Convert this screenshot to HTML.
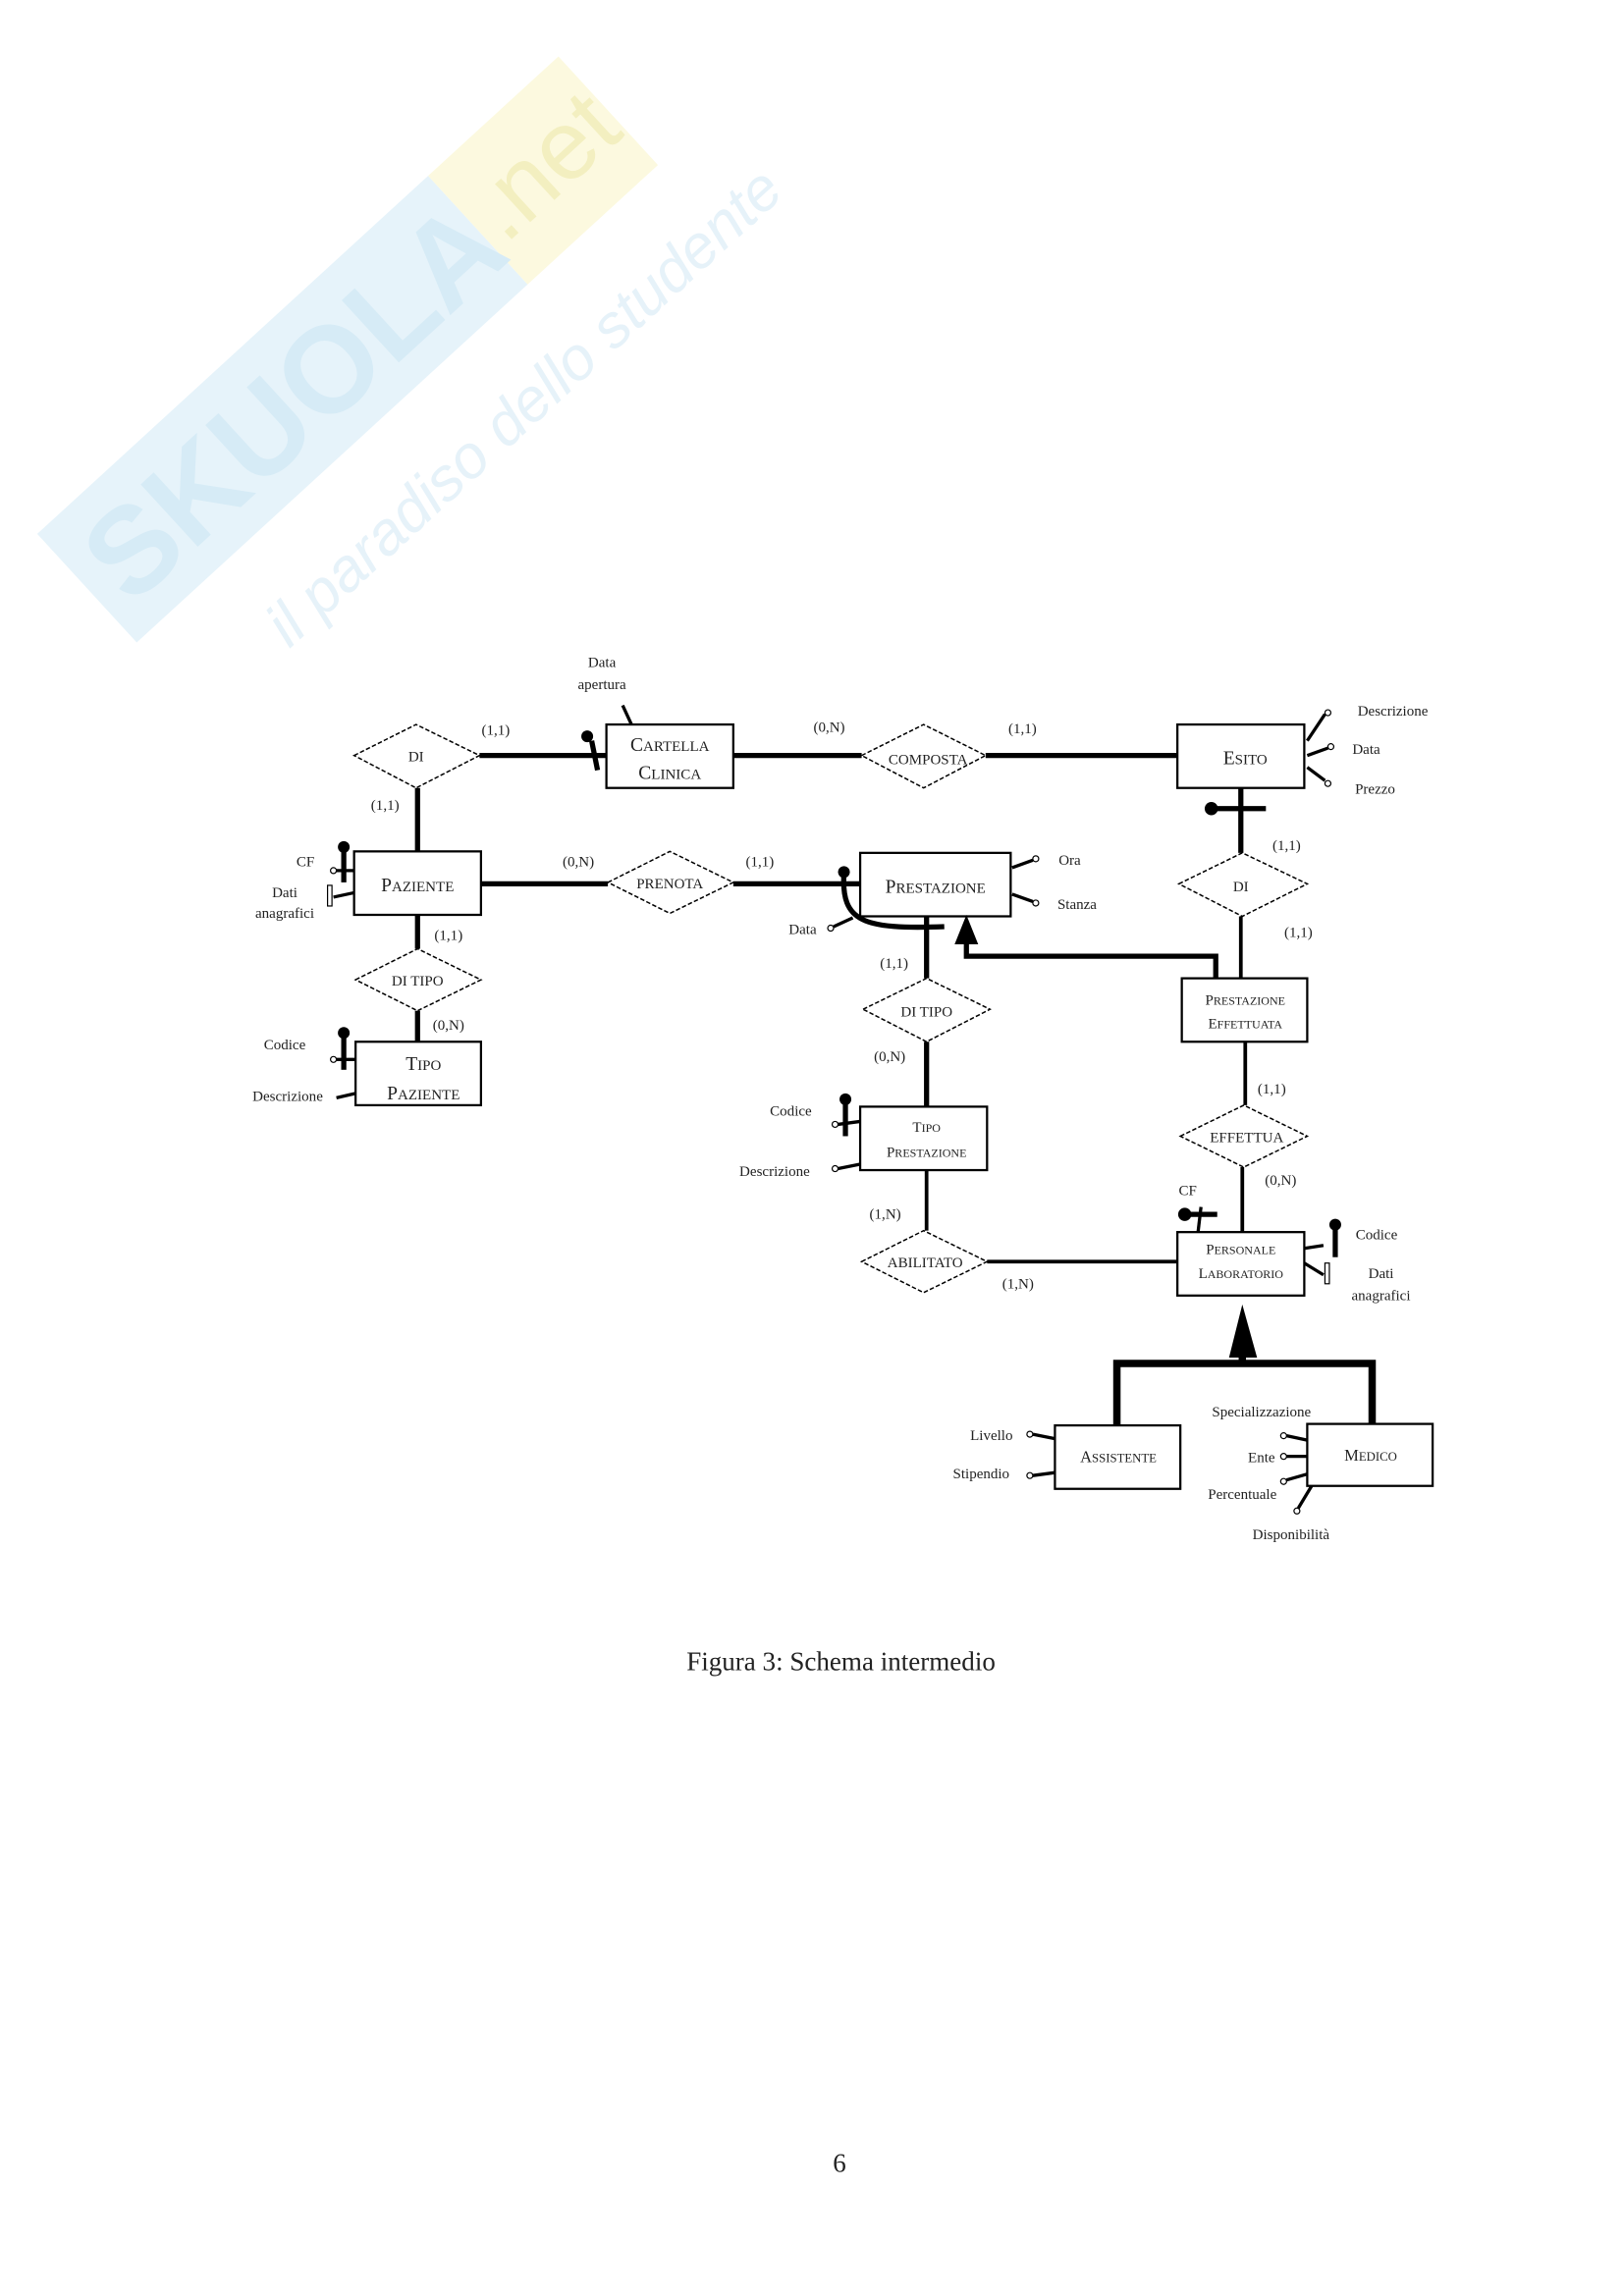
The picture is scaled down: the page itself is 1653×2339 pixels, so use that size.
<!DOCTYPE html>
<html><head><meta charset="utf-8"><style>
html,body{margin:0;padding:0;background:#fff}
svg{display:block}
text{font-family:"Liberation Serif",serif;fill:#222}
</style></head><body>
<svg width="1653" height="2339" viewBox="0 0 1653 2339" xmlns="http://www.w3.org/2000/svg">
<!-- watermark -->
<g transform="translate(354,356) rotate(-42.5)">
<rect x="-360" y="-75" width="540" height="150" fill="#e6f3fa"/>
<rect x="180" y="-75" width="180" height="150" fill="#fcf9df"/>
<text x="-340" y="45" font-size="125" font-weight="bold" style="font-family:'Liberation Sans',sans-serif;fill:#d6ebf6">SKUOLA</text>
<text x="190" y="30" font-size="100" style="font-family:'Liberation Sans',sans-serif;fill:#f3efc0">.net</text>
<text x="-250" y="185" font-size="62" font-style="italic" style="font-family:'Liberation Sans',sans-serif;fill:#e6f2f9">il paradiso dello studente</text>
</g>
<g transform="scale(1.5027,1.5032)">
<g fill="none" stroke="#000">
<g stroke-width="3.5">
<line x1="325" y1="512" x2="411" y2="512"/>
<line x1="497" y1="512" x2="584" y2="512"/>
<line x1="668" y1="512" x2="798" y2="512"/>
<line x1="326" y1="599" x2="412" y2="599"/>
<line x1="497" y1="599" x2="583" y2="599"/>
<line x1="283" y1="534" x2="283" y2="577"/>
<line x1="283" y1="620" x2="283" y2="643"/>
<line x1="283" y1="685" x2="283" y2="706"/>
<line x1="628" y1="621" x2="628" y2="663"/>
<line x1="628" y1="706" x2="628" y2="750"/>
<line x1="841" y1="534" x2="841" y2="578"/>
<polyline points="824,663 824,648 655,648 655,638"/>
<path d="M572,592 C570,625 585,630 640,628"/>
</g>
<g stroke-width="2.5">
<line x1="628" y1="793" x2="628" y2="834"/>
<line x1="669" y1="855" x2="798" y2="855"/>
<line x1="841" y1="621" x2="841" y2="663"/>
<line x1="844" y1="706" x2="844" y2="749"/>
<line x1="842" y1="791" x2="842" y2="835"/>
</g>
<g stroke-width="5">
<polyline points="757,966 757,924 930,924 930,965"/>
<line x1="842" y1="924" x2="842" y2="905"/>
</g>
<polygon points="655,620 647,640 663,640" fill="#000" stroke="none"/>
<polygon points="842,884 833,920 852,920" fill="#000" stroke="none"/>
<g stroke-width="1.5">
<rect x="411" y="491" width="86" height="43"/>
<rect x="798" y="491" width="86" height="43"/>
<rect x="240" y="577" width="86" height="43"/>
<rect x="583" y="578" width="102" height="43"/>
<rect x="241" y="706" width="85" height="43"/>
<rect x="583" y="750" width="86" height="43"/>
<rect x="801" y="663" width="85" height="43"/>
<rect x="798" y="835" width="86" height="43"/>
<rect x="715" y="966" width="85" height="43"/>
<rect x="886" y="965" width="85" height="42"/>
</g>
<g stroke-width="1" stroke-dasharray="3,1.5">
<polygon points="240,512 282,491 325,512 282,534"/>
<polygon points="412,598 454,577 497,598 454,619"/>
<polygon points="584,512 626,491 668,512 626,534"/>
<polygon points="799,599 842,578 886,599 842,621"/>
<polygon points="241,664 283,643 326,664 283,685"/>
<polygon points="585,684 628,663 671,684 628,706"/>
<polygon points="584,855 626,834 669,855 626,876"/>
<polygon points="800,770 843,749 886,770 843,791"/>
</g>
<g stroke-width="2.2">
<line x1="422" y1="478" x2="428" y2="491"/>
<line x1="886" y1="502" x2="898" y2="484"/>
<line x1="886" y1="512" x2="900" y2="507"/>
<line x1="886" y1="520" x2="898" y2="529"/>
<line x1="686" y1="588" x2="700" y2="583"/>
<line x1="686" y1="606" x2="700" y2="611"/>
<line x1="565" y1="628" x2="578" y2="622"/>
<line x1="228" y1="590" x2="240" y2="590"/>
<line x1="226" y1="608" x2="240" y2="605"/>
<line x1="228" y1="718" x2="241" y2="718"/>
<line x1="228" y1="744" x2="241" y2="741"/>
<line x1="568" y1="762" x2="583" y2="760"/>
<line x1="568" y1="792" x2="583" y2="789"/>
<line x1="884" y1="846" x2="897" y2="844"/>
<line x1="884" y1="856" x2="897" y2="864"/>
<line x1="700" y1="972" x2="715" y2="975"/>
<line x1="700" y1="1000" x2="715" y2="998"/>
<line x1="872" y1="973" x2="886" y2="976"/>
<line x1="872" y1="987" x2="886" y2="987"/>
<line x1="872" y1="1003" x2="886" y2="999"/>
<line x1="880" y1="1022" x2="889" y2="1007"/>
<line x1="812" y1="835" x2="814" y2="818"/>
</g>
<g stroke-width="3.5">
<line x1="401" y1="502" x2="405" y2="522"/>
<line x1="233" y1="575" x2="233" y2="598"/>
<line x1="233" y1="700" x2="233" y2="725"/>
<line x1="573" y1="745" x2="573" y2="770"/>
<line x1="818" y1="548" x2="858" y2="548"/>
<line x1="805" y1="823" x2="825" y2="823"/>
<line x1="905" y1="831" x2="905" y2="852"/>
</g>
</g>
<g fill="#000">
<circle cx="398" cy="499" r="4"/>
<circle cx="233" cy="574" r="4"/>
<circle cx="233" cy="700" r="4"/>
<circle cx="573" cy="745" r="4"/>
<circle cx="572" cy="591" r="4"/>
<circle cx="821" cy="548" r="4.5"/>
<circle cx="803" cy="823" r="4.5"/>
<circle cx="905" cy="830" r="4"/>
</g>
<g fill="#fff" stroke="#000" stroke-width="0.8">
<circle cx="900" cy="483" r="2"/><circle cx="902" cy="506" r="2"/><circle cx="900" cy="531" r="2"/>
<circle cx="702" cy="582" r="2"/><circle cx="702" cy="612" r="2"/>
<circle cx="226" cy="590" r="2"/><circle cx="226" cy="718" r="2"/>
<circle cx="566" cy="762" r="2"/><circle cx="566" cy="792" r="2"/>
<circle cx="698" cy="972" r="2"/><circle cx="698" cy="1000" r="2"/>
<circle cx="870" cy="973" r="2"/><circle cx="870" cy="987" r="2"/><circle cx="870" cy="1004" r="2"/>
<circle cx="879" cy="1024" r="2"/><circle cx="563" cy="629" r="2"/>
</g>
<rect x="222" y="600" width="3" height="14" fill="none" stroke="#000" stroke-width="0.8"/>
<rect x="898" y="856" width="3" height="14" fill="none" stroke="#000" stroke-width="0.8"/>
<g font-size="13" text-anchor="middle">
<text x="454" y="509">C<tspan font-size="10">ARTELLA</tspan></text>
<text x="454" y="528">C<tspan font-size="10">LINICA</tspan></text>
<text x="844" y="518">E<tspan font-size="10">SITO</tspan></text>
<text x="283" y="604">P<tspan font-size="10">AZIENTE</tspan></text>
<text x="634" y="605">P<tspan font-size="10">RESTAZIONE</tspan></text>
<text x="287" y="725">T<tspan font-size="10">IPO</tspan></text>
<text x="287" y="745">P<tspan font-size="10">AZIENTE</tspan></text>
<text x="628" y="767" font-size="10">T<tspan font-size="8">IPO</tspan></text>
<text x="628" y="784" font-size="10">P<tspan font-size="8">RESTAZIONE</tspan></text>
<text x="844" y="681" font-size="10">P<tspan font-size="8">RESTAZIONE</tspan></text>
<text x="844" y="697" font-size="10">E<tspan font-size="8">FFETTUATA</tspan></text>
<text x="841" y="850" font-size="10">P<tspan font-size="8">ERSONALE</tspan></text>
<text x="841" y="866" font-size="10">L<tspan font-size="8">ABORATORIO</tspan></text>
<text x="758" y="991" font-size="11">A<tspan font-size="8.5">SSISTENTE</tspan></text>
<text x="929" y="990" font-size="11">M<tspan font-size="8.5">EDICO</tspan></text>
</g>
<g font-size="10" text-anchor="middle">
<text x="282" y="516">DI</text>
<text x="454" y="602">PRENOTA</text>
<text x="629" y="518">COMPOSTA</text>
<text x="841" y="604">DI</text>
<text x="283" y="668">DI TIPO</text>
<text x="628" y="689">DI TIPO</text>
<text x="627" y="859">ABILITATO</text>
<text x="845" y="774">EFFETTUA</text>
</g>
<g font-size="10" text-anchor="middle">
<text x="336" y="498">(1,1)</text>
<text x="261" y="549">(1,1)</text>
<text x="392" y="587">(0,N)</text>
<text x="515" y="587">(1,1)</text>
<text x="562" y="496">(0,N)</text>
<text x="693" y="497">(1,1)</text>
<text x="304" y="637">(1,1)</text>
<text x="304" y="698">(0,N)</text>
<text x="606" y="656">(1,1)</text>
<text x="603" y="719">(0,N)</text>
<text x="872" y="576">(1,1)</text>
<text x="880" y="635">(1,1)</text>
<text x="862" y="741">(1,1)</text>
<text x="868" y="803">(0,N)</text>
<text x="600" y="826">(1,N)</text>
<text x="690" y="873">(1,N)</text>
<text x="408" y="452">Data</text>
<text x="408" y="467">apertura</text>
<text x="944" y="485">Descrizione</text>
<text x="926" y="511">Data</text>
<text x="932" y="538">Prezzo</text>
<text x="725" y="586">Ora</text>
<text x="730" y="616">Stanza</text>
<text x="544" y="633">Data</text>
<text x="207" y="587">CF</text>
<text x="193" y="608">Dati</text>
<text x="193" y="622">anagrafici</text>
<text x="193" y="711">Codice</text>
<text x="195" y="746">Descrizione</text>
<text x="536" y="756">Codice</text>
<text x="525" y="797">Descrizione</text>
<text x="805" y="810">CF</text>
<text x="933" y="840">Codice</text>
<text x="936" y="866">Dati</text>
<text x="936" y="881">anagrafici</text>
<text x="672" y="976">Livello</text>
<text x="665" y="1002">Stipendio</text>
<text x="855" y="960">Specializzazione</text>
<text x="855" y="991">Ente</text>
<text x="842" y="1016">Percentuale</text>
<text x="875" y="1043">Disponibilità</text>
</g>
<text x="570" y="1132" font-size="18" text-anchor="middle">Figura 3: Schema intermedio</text>
<text x="569" y="1472" font-size="18" text-anchor="middle">6</text>
</g>
</svg>
</body></html>
